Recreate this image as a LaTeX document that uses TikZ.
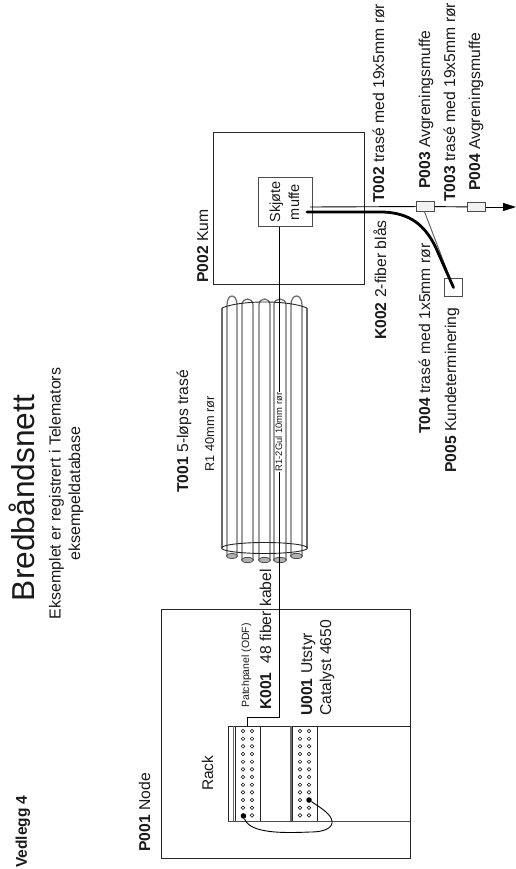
\documentclass[tikz,border=0pt]{standalone}
\usepackage{fontspec}
\setmainfont{Liberation Sans}
\usetikzlibrary{arrows.meta}
\definecolor{txt}{HTML}{1A1A1A}
\tikzset{
  lbl/.style={rotate=90,anchor=base west,inner sep=0pt,text=txt,font=\fontsize{15.7}{18}\selectfont},
  lblc/.style={rotate=90,anchor=base,inner sep=0pt,text=txt},
  thin line/.style={draw=black,line width=0.9pt},
  frame/.style={draw=black!85,line width=1pt},
  tube/.style={draw=black!58,line width=1.25pt},
  muffebox/.style={draw=black!70,fill=black!5,line width=1pt,minimum width=18pt,minimum height=9.5pt,inner sep=0pt},
  hole/.style={draw=black,fill=white,line width=0.5pt},
  jack/.style={circle,fill=black,inner sep=0pt,minimum size=5.5pt},
}
\begin{document}
\begin{tikzpicture}[x=1pt,y=-1pt]
\useasboundingbox (0,0) rectangle (516,869);
% header texts
\node[lbl,font=\bfseries\fontsize{15.5}{18}\selectfont] (vedlegg) at (27,868) {Vedlegg 4};
\node[lblc,font=\fontsize{31.7}{36}\selectfont] (title) at (34,498) {Bredbåndsnett};
\node[lblc,font=\fontsize{16}{19}\selectfont] (sub1) at (60.5,493.5) {Eksemplet er registrert i Telemators};
\node[lblc,font=\fontsize{16}{19}\selectfont] (sub2) at (80,493.5) {eksempeldatabase};
% P001 and rack
\node[lbl] (p001) at (150,852) {\textbf{P001} Node};
\draw[frame] (161,609) rectangle (410,858);
\draw[frame] (228,726) -- (410,726);
\draw[frame,draw=black!70] (228,821) -- (410,821);
\draw[frame] (228,726) -- (228,821);
\draw[tube] (233.5,726) -- (233.5,821) (291,726) -- (291,821);
\draw[frame] (235,726) -- (235,821) (260.5,726) -- (260.5,821) (292,726) -- (292,821) (317,726) -- (317,821);
\foreach \r in {0,...,11} {
  \foreach \cx in {243,252,300,309} {
    \draw[hole] (\cx,731+\r*7.67) circle (1.8);
  }
}
\node[jack] (j1) at (243.5,816) {};
\node[jack] (j2) at (309,800) {};
\draw[thin line] (j1) .. controls (250,834) and (285,833) .. (310,832)
  .. controls (328,832) and (335,826) .. (331,818)
  .. controls (328,812) and (318,806) .. (j2);
\node[lbl,font=\fontsize{15.5}{18}\selectfont] (rack) at (213,791) {Rack};
\node[lbl,font=\fontsize{10.5}{12}\selectfont] (patch) at (249,708) {Patchpanel (ODF)};
\node[lbl] (k001) at (271,710) {\textbf{K001}\ \ 48 fiber kabel};
\node[lbl] (u001) at (312,716) {\textbf{U001} Utstyr};
\node[lbl] (cat) at (331,716) {Catalyst 4650};
% P002
\draw[frame] (213,133) rectangle (364,284);
\node[lbl] (p002) at (208,283) {\textbf{P002} Kum};
\node[draw=black!70,fill=white,line width=1pt,minimum width=54pt,minimum height=48pt,inner sep=0pt] (skj) at (285,202) {};
\node[lblc,font=\fontsize{14.5}{17}\selectfont] (skj1) at (280,202) {Skjøte};
\node[lblc,font=\fontsize{14.5}{17}\selectfont] (skj2) at (299,202) {muffe};
% bundle
\foreach \xa/\xb/\ya/\yb in {227/237/305/556,242/253/305/560,259/270/305/560,274/286/305/560,291/302/305/556} {
  \draw[tube] (\xa,\yb) -- (\xa,\ya) .. controls (\xa,{\ya-(\yb==556?12:8)}) and (\xb,{\ya-(\yb==556?12:8)}) .. (\xb,\ya) -- (\xb,\yb);
  \draw[draw=black!70,fill=black!30,line width=0.8pt] ({(\xa+\xb)/2},\yb) ellipse ({(\xb-\xa)/2+0.5} and 2.6);
}
\draw[tube] (222,548) -- (222,308) (307,308) -- (307,548);
\draw[draw=black!85,line width=0.9pt] (222,308) .. controls (240,300) and (289,300) .. (307,308);
\draw[draw=black!85,line width=0.9pt] (264.5,548) ellipse (43 and 5.5);
\node[lbl] (t001) at (188,493) {\textbf{T001} 5-løps trasé};
\node[lblc,font=\fontsize{12.8}{15}\selectfont] (r1) at (214,434) {R1\ 40mm rør};
% K001 line
\coordinate (kb1) at (279,717);
\coordinate (kb2) at (247,717);
\coordinate (kb3) at (247,726);
\draw[thin line] (skj.south -| kb1) -- (kb1) -- (kb2) -- (kb3);
\node[lblc,fill=white,inner sep=0.6pt,font=\fontsize{9.4}{11}\selectfont] (r12) at (282,432) {R1-2Gul 10mm rør};
% right-hand route
\node[muffebox] (p3) at (425,206.5) {};
\node[muffebox] (p4) at (476.5,207) {};
\node[draw=black!70,fill=white,line width=1.1pt,minimum size=18.5pt,inner sep=0pt] (p5) at (453.5,287.5) {};
\coordinate (thinstart) at (310,207);
\coordinate (tip) at (516,207);
\draw[thin line] (thinstart) -- (p3);
\draw[thin line] (p3) -- (p4);
\draw[thin line,-{Triangle[length=13pt,width=8pt]}] (p4) -- (tip);
\draw[draw=black!60,line width=1pt] (p3.south) ++(-0.5,0) -- (p5.center);
\coordinate (kstart) at (307,212);
\draw[black,line width=2.8pt,line cap=round] (kstart) -- (383,212) .. controls (410,213) and (425,225) .. (436,248) -- (p5.center);
\node[lbl] (t002) at (384,203) {\textbf{T002} trasé med 19x5mm rør};
\node[lbl] (p003) at (430,189) {\textbf{P003} Avgreningsmuffe};
\node[lbl] (t003) at (455,202) {\textbf{T003} trasé med 19x5mm rør};
\node[lbl] (p004) at (480,191) {\textbf{P004} Avgreningsmuffe};
\node[lbl] (k002) at (386,340) {\textbf{K002} 2-fiber blås};
\node[lbl] (t004) at (430,434) {\textbf{T004} trasé med 1x5mm rør};
\node[lbl] (p005) at (456,473) {\textbf{P005} Kundeterminering};
\end{tikzpicture}
\end{document}
